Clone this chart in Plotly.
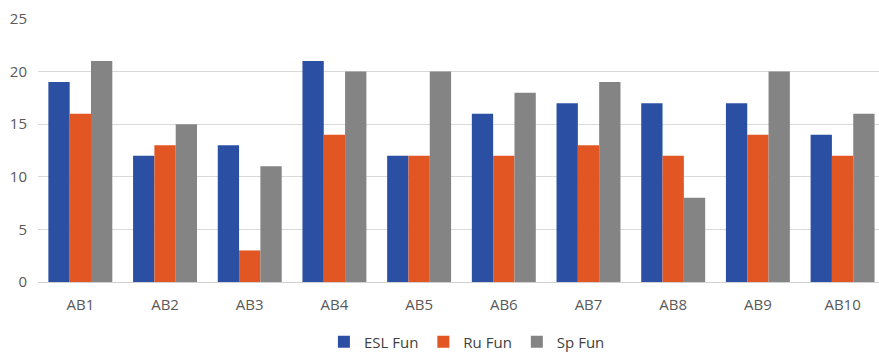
import plotly.graph_objects as go

categories = ["AB1", "AB2", "AB3", "AB4", "AB5", "AB6", "AB7", "AB8", "AB9", "AB10"]
esl_fun = [19, 12, 13, 21, 12, 16, 17, 17, 17, 14]
ru_fun = [16, 13, 3, 14, 12, 12, 13, 12, 14, 12]
sp_fun = [21, 15, 11, 20, 20, 18, 19, 8, 20, 16]
y_ticks = [0, 5, 10, 15, 20, 25]

series = [
    ("ESL Fun", esl_fun, "#2b50a3"),
    ("Ru Fun", ru_fun, "#e15623"),
    ("Sp Fun", sp_fun, "#848484"),
]

fig = go.Figure()
for name, vals, color in series:
    fig.add_trace(go.Bar(x=categories, y=vals, name=name, marker_color=color,
                         marker_line_width=0))

fig.update_layout(
    width=879, height=353,
    margin=dict(l=38, r=0, t=19, b=71, autoexpand=False),
    paper_bgcolor="white", plot_bgcolor="white",
    barmode="group", bargap=0.245, bargroupgap=0,
    font=dict(family="Open Sans, Noto Sans, sans-serif", size=15, color="#595959"),
    showlegend=True,
    legend=dict(orientation="h", x=0.51, xanchor="center", y=-0.228, yanchor="middle",
                font=dict(size=15, color="#404040"), itemwidth=30,
                tracegroupgap=0, traceorder="normal"),
    xaxis=dict(range=[-0.5, 9.43], showgrid=False, showline=False, ticks="",
               ticklabelstandoff=12,
               tickfont=dict(size=15, color="#595959")),
    yaxis=dict(range=[0, 25], tickvals=y_ticks, showgrid=True, gridcolor="#d9d9d9",
               gridwidth=1, zeroline=True, zerolinecolor="#d0d0d0", zerolinewidth=1,
               ticks="", ticklabelstandoff=10,
               tickfont=dict(size=15, color="#595959")),
)

fig.write_html("out.html")
